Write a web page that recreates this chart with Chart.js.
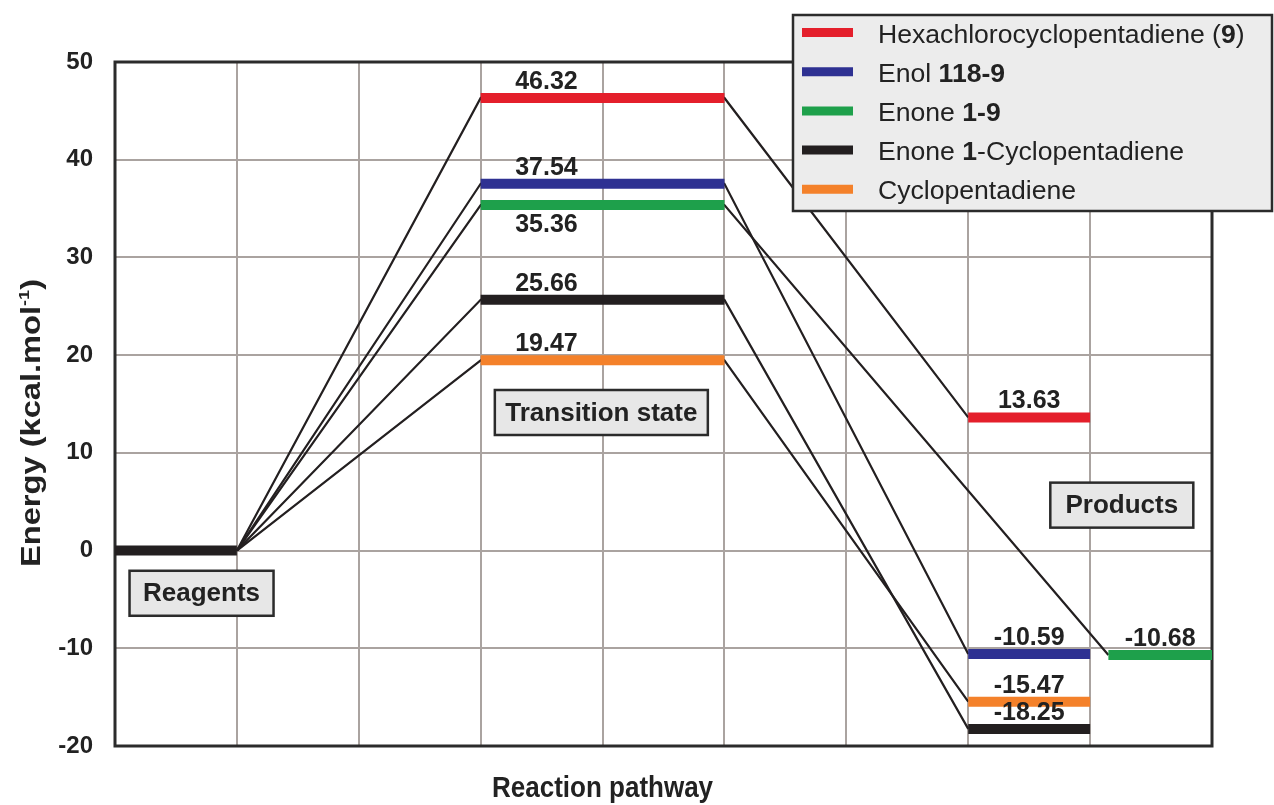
<!DOCTYPE html>
<html lang="en">
<head>
<meta charset="UTF-8">
<title>Reaction energy profile</title>
<script src="https://cdn.jsdelivr.net/npm/chart.js@4.4.0/dist/chart.umd.min.js"></script>
<style>
body { margin: 0; background: #ffffff; }
#wrap { width: 1274px; height: 805px; }
</style>
</head>
<body>
<div id="wrap"><canvas id="profile" width="1274" height="805"></canvas></div>
<script>
// --- data ---
const species = ['Hexachlorocyclopentadiene (9)', 'Enol 118-9', 'Enone 1-9', 'Enone 1-Cyclopentadiene', 'Cyclopentadiene'];
// legend text split in [text, bold] pieces
const legendParts = [
    [['Hexachlorocyclopentadiene (', false], ['9', true], [')', false]],
    [['Enol ', false], ['118-9', true]],
    [['Enone ', false], ['1-9', true]],
    [['Enone ', false], ['1', true], ['-Cyclopentadiene', false]],
    [['Cyclopentadiene', false]]
];
const colors = ['#e41f2b', '#2e3192', '#1ea04b', '#231f20', '#f4812a'];
const reagentEnergy = 0;
const tsEnergy = [46.32, 37.54, 35.36, 25.66, 19.47];
const productEnergy = [13.63, -10.59, -10.68, -18.25, -15.47];
const productColumn = [0, 0, 1, 0, 0];      // green product sits in the second column
const tsLabelBelow = [false, false, true, false, false];
const stageNames = ['Reagents', 'Transition state', 'Products'];
const yTicks = [-20, -10, 0, 10, 20, 30, 40, 50];
const xTitle = 'Reaction pathway';

// stage spans on the x axis (0..9)
const REAGENT = [0, 1];
const TS = [3, 5];
const PRODUCT_COLS = [[7, 8], [8.15, 9]];

const FONT = '"Liberation Sans", Arial, sans-serif';
const INK = '#222222';
Chart.defaults.font.family = FONT;

const datasets = [];
datasets.push({
    data: [{x: REAGENT[0], y: reagentEnergy}, {x: REAGENT[1], y: reagentEnergy}],
    borderColor: '#231f20', borderWidth: 10, order: 1
});
species.forEach((name, i) => {
    const col = PRODUCT_COLS[productColumn[i]];
    // energy levels (thick)
    datasets.push({
        label: name,
        data: [
            {x: TS[0], y: tsEnergy[i]}, {x: TS[1], y: tsEnergy[i]},
            {x: TS[1], y: null},
            {x: col[0], y: productEnergy[i]}, {x: col[1], y: productEnergy[i]}
        ],
        borderColor: colors[i], borderWidth: 10, order: 1
    });
    // thin connectors
    datasets.push({
        data: [
            {x: REAGENT[1], y: reagentEnergy}, {x: TS[0], y: tsEnergy[i]},
            {x: TS[1], y: tsEnergy[i]}, {x: col[0], y: productEnergy[i]}
        ],
        borderColor: '#231f20', borderWidth: 2.2, order: 2
    });
});

function drawPieces(ctx, pieces, x, y, size) {
    pieces.forEach(([txt, bold]) => {
        ctx.font = (bold ? 'bold ' : '') + size + 'px ' + FONT;
        ctx.fillText(txt, x, y);
        x += ctx.measureText(txt).width;
    });
}

const decorations = {
    id: 'decorations',
    beforeDatasetsDraw(chart) {
        const {ctx, chartArea: a} = chart;
        ctx.save();
        ctx.strokeStyle = '#2b2b2b';
        ctx.lineWidth = 3;
        ctx.strokeRect(a.left, a.top, a.right - a.left, a.bottom - a.top);
        ctx.restore();
    },
    afterDatasetsDraw(chart) {
        const {ctx} = chart;
        const xs = chart.scales.x, ys = chart.scales.y;
        ctx.save();
        ctx.fillStyle = INK;
        ctx.font = 'bold 25px ' + FONT;
        ctx.textAlign = 'center';
        species.forEach((name, i) => {
            // transition state value
            let px = xs.getPixelForValue(TS[0] + 0.27 * (TS[1] - TS[0]));
            let py = ys.getPixelForValue(tsEnergy[i]);
            if (tsLabelBelow[i]) {
                ctx.textBaseline = 'top';
                ctx.fillText(tsEnergy[i].toFixed(2), px, py + 8);
            } else {
                ctx.textBaseline = 'alphabetic';
                ctx.fillText(tsEnergy[i].toFixed(2), px, py - 9);
            }
            // product value
            const col = PRODUCT_COLS[productColumn[i]];
            px = xs.getPixelForValue((col[0] + col[1]) / 2);
            py = ys.getPixelForValue(productEnergy[i]);
            ctx.textBaseline = 'alphabetic';
            ctx.fillText(productEnergy[i].toFixed(2), px, py - 9);
        });
        ctx.restore();
    },
    afterDraw(chart) {
        const {ctx} = chart;
        const xs = chart.scales.x, ys = chart.scales.y;
        ctx.save();

        // stage boxes
        const boxes = [
            {x: 0.71, y: -4.37, w: 144},
            {x: 3.99, y: 14.13, w: 213},
            {x: 8.26, y: 4.65, w: 143}
        ];
        boxes.forEach((b, i) => {
            const cx = xs.getPixelForValue(b.x), cy = ys.getPixelForValue(b.y);
            const h = 45;
            ctx.fillStyle = '#e7e7e7';
            ctx.fillRect(cx - b.w / 2, cy - h / 2, b.w, h);
            ctx.strokeStyle = '#2b2b2b';
            ctx.lineWidth = 2.5;
            ctx.strokeRect(cx - b.w / 2, cy - h / 2, b.w, h);
            ctx.fillStyle = INK;
            ctx.font = 'bold 26px ' + FONT;
            ctx.textAlign = 'center';
            ctx.textBaseline = 'middle';
            ctx.fillText(stageNames[i], cx, cy + 1);
        });

        // legend box
        ctx.fillStyle = '#ececec';
        ctx.fillRect(793, 15, 479, 196);
        ctx.strokeStyle = '#2b2b2b';
        ctx.lineWidth = 2.5;
        ctx.strokeRect(793, 15, 479, 196);
        ctx.textAlign = 'left';
        ctx.textBaseline = 'alphabetic';
        species.forEach((name, i) => {
            const ry = 32.5 + i * 39.2;
            ctx.strokeStyle = colors[i];
            ctx.lineWidth = 9;
            ctx.beginPath();
            ctx.moveTo(802, ry);
            ctx.lineTo(853, ry);
            ctx.stroke();
            ctx.fillStyle = INK;
            drawPieces(ctx, legendParts[i], 878, ry + 10, 26.6);
        });

        // x title (slightly tall, like the original)
        ctx.save();
        ctx.fillStyle = INK;
        ctx.font = 'bold 26px ' + FONT;
        ctx.textAlign = 'center';
        ctx.translate(xs.getPixelForValue(4), 797);
        ctx.scale(1, 1.15);
        ctx.fillText(xTitle, 0, 0);
        ctx.restore();

        // y title, stretched along its length like the original
        const main = 'Energy (kcal.mol', sup = '-1', tail = ')';
        ctx.fillStyle = INK;
        ctx.font = 'bold 27px ' + FONT;
        const w1 = ctx.measureText(main).width, w3 = ctx.measureText(tail).width;
        ctx.font = 'bold 15px ' + FONT;
        const w2 = ctx.measureText(sup).width;
        const total = w1 + w2 + w3;
        const sx = 288 / total;
        ctx.translate(40, 423);
        ctx.rotate(-Math.PI / 2);
        ctx.scale(sx, 1);
        ctx.textAlign = 'left';
        let tx = -total / 2;
        ctx.font = 'bold 27px ' + FONT;
        ctx.fillText(main, tx, 0);
        tx += w1;
        ctx.font = 'bold 15px ' + FONT;
        ctx.fillText(sup, tx, -11);
        tx += w2;
        ctx.font = 'bold 27px ' + FONT;
        ctx.fillText(tail, tx, 0);
        ctx.restore();
    }
};

new Chart(document.getElementById('profile'), {
    type: 'line',
    data: { datasets: datasets },
    options: {
        responsive: false,
        animation: false,
        layout: { padding: { top: 62, right: 62, left: 0, bottom: 0 } },
        elements: {
            point: { radius: 0, hoverRadius: 0 },
            line: { tension: 0, borderCapStyle: 'butt', fill: false }
        },
        spanGaps: false,
        plugins: { legend: { display: false }, tooltip: { enabled: false } },
        scales: {
            x: {
                type: 'linear', min: 0, max: 9,
                ticks: { stepSize: 1, display: false },
                grid: { color: '#aaa3a0', lineWidth: 2, drawTicks: false },
                border: { display: false },
                afterFit: (axis) => { axis.height = 59; }
            },
            y: {
                min: yTicks[0], max: yTicks[yTicks.length - 1],
                ticks: { stepSize: yTicks[1] - yTicks[0], color: INK, padding: 22,
                         font: { size: 24, weight: 'bold' } },
                grid: { color: '#aaa3a0', lineWidth: 2, drawTicks: false },
                border: { display: false },
                afterFit: (axis) => { axis.width = 115; }
            }
        }
    },
    plugins: [decorations]
});
</script>
</body>
</html>
